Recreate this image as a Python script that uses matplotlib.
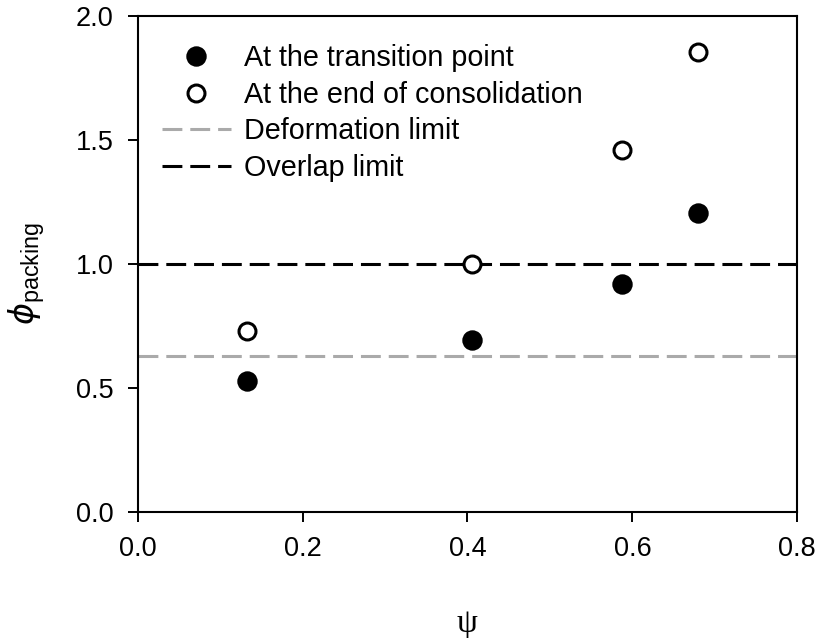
import matplotlib
matplotlib.use("Agg")
import matplotlib.pyplot as plt

plt.rcParams["font.family"] = ["Liberation Sans", "DejaVu Sans"]

# particle shape factor and packing fraction
psi_transition = [0.133, 0.406, 0.587, 0.680]
phi_transition = [0.528, 0.694, 0.921, 1.204]

psi_end = [0.133, 0.406, 0.587, 0.680]
phi_end = [0.730, 1.000, 1.461, 1.854]

deformation_limit = 0.629
overlap_limit = 1.0

x_ticks = [0.0, 0.2, 0.4, 0.6, 0.8]
y_ticks = [0.0, 0.5, 1.0, 1.5, 2.0]

fig = plt.figure(figsize=(8.19, 6.38), dpi=100)
ax = fig.add_axes([0.1681, 0.1975, 0.9735 - 0.1681, 0.9749 - 0.1975])

dash = (0, (6.5, 2.6))
ax.axhline(deformation_limit, color="#aaaaaa", lw=2.2, ls=dash,
           label="Deformation limit", zorder=1)
ax.axhline(overlap_limit, color="black", lw=2.2, ls=dash,
           label="Overlap limit", zorder=1)

ax.plot(psi_transition, phi_transition, ls="none", marker="o", ms=13.5,
        mfc="black", mec="black", mew=1.2, label="At the transition point", zorder=3)
ax.plot(psi_end, phi_end, ls="none", marker="o", ms=12.2,
        mfc="white", mec="black", mew=2.2, label="At the end of consolidation", zorder=3)

ax.set_xlim(0.0, 0.8)
ax.set_ylim(0.0, 2.0)
ax.set_xticks(x_ticks)
ax.set_yticks(y_ticks)
ax.set_xticklabels([f"{v:.1f}" for v in x_ticks])
ax.set_yticklabels([f"{v:.1f}" for v in y_ticks])
ax.tick_params(direction="out", length=7.5, width=1.4, labelsize=19.5, pad=10,
               top=False, right=False)
for sp in ax.spines.values():
    sp.set_linewidth(1.5)

ax.set_xlabel("ψ", fontsize=24, family="Liberation Serif", labelpad=33)
ax.set_ylabel(r"$\phi_{\mathregular{packing}}$", fontsize=24)
ax.yaxis.set_label_coords(-0.137, 0.48)

handles, labels = ax.get_legend_handles_labels()
order = [2, 3, 0, 1]
ax.legend([handles[i] for i in order], [labels[i] for i in order],
          loc="upper left", bbox_to_anchor=(0.002, 0.99), frameon=False,
          fontsize=20.7, handlelength=2.4, handletextpad=0.45,
          labelspacing=0.3, borderaxespad=0.4)

fig.savefig("out.png", dpi=100)
